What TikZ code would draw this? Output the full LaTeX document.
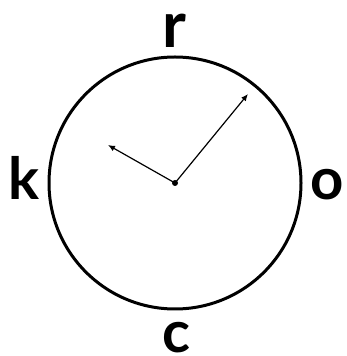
\documentclass[tikz,border=0pt]{standalone}
\usepackage{fontspec}
\setmainfont{Lato}
\usetikzlibrary{arrows.meta}

\begin{document}
\begin{tikzpicture}[
  x=1pt,y=1pt,
  face/.style={line width=3pt},
  hand/.style={line width=1.2pt,-{Latex[length=7pt,width=6pt]}},
  letter/.style={anchor=base,inner sep=0pt,font=\fontsize{58}{58}\selectfont\bfseries}
]
\useasboundingbox (0,0) rectangle (347,356);
\coordinate (ctr) at (175,173);
\draw[face] (ctr) circle (126);
\fill (ctr) circle (3);

\node[letter,font=\fontsize{64}{64}\selectfont\bfseries] (r) at (174,308) {r};
\node[letter] (k) at (24,156) {k};
\node[letter] (o) at (327,156) {o};
\node[letter] (c) at (176,3) {c};

\coordinate (short) at (108,211);
\coordinate (long) at (248,262);
\draw[hand] (ctr)--(short);
\draw[hand] (ctr)--(long);
\end{tikzpicture}
\end{document}
